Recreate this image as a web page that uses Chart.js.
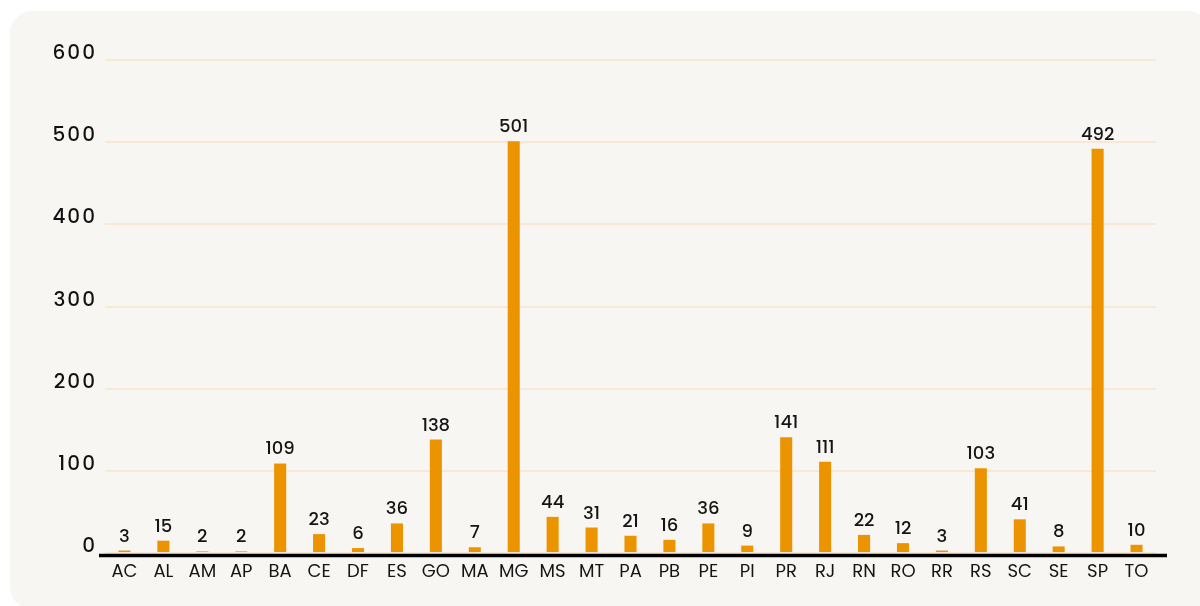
<!DOCTYPE html>
<html>
<head>
<meta charset="utf-8">
<script src="https://cdn.jsdelivr.net/npm/chart.js@4.4.0/dist/chart.umd.min.js"></script>
<style>
  html, body { margin: 0; padding: 0; background: #ffffff; }
  #card {
    position: absolute; left: 10px; top: 11px; width: 1200px; height: 598px;
    background: #f8f6f2; border-radius: 22px;
  }
  #wrap { position: absolute; left: 0; top: 0; width: 1200px; height: 606px; }
</style>
</head>
<body>
<div id="card"></div>
<div id="wrap"><canvas id="grafico"></canvas></div>
<script>
// estados e quantidades
const estados = ['AC','AL','AM','AP','BA','CE','DF','ES','GO','MA','MG','MS','MT','PA','PB','PE','PI','PR','RJ','RN','RO','RR','RS','SC','SE','SP','TO'];
const quantidades = [3,15,2,2,109,23,6,36,138,7,501,44,31,21,16,36,9,141,111,22,12,3,103,41,8,492,10];
const ticksY = [0,100,200,300,400,500,600];

const corBarra = '#ec9400';
const fonte = "Poppins, Inter, 'Open Sans', sans-serif";

// numeros em cima das barras
const rotulos = {
  id: 'rotulos',
  afterDatasetsDraw(chart) {
    const ctx = chart.ctx;
    const meta = chart.getDatasetMeta(0);
    ctx.save();
    ctx.font = '500 18px ' + fonte;
    ctx.fillStyle = '#151515';
    ctx.textAlign = 'center';
    ctx.textBaseline = 'alphabetic';
    meta.data.forEach((bar, i) => {
      ctx.fillText(quantidades[i], bar.x, bar.y - 9);
    });
    ctx.restore();
  }
};

// linha preta do eixo x (um pouco maior que a area)
const linhaBase = {
  id: 'linhaBase',
  afterDatasetsDraw(chart) {
    const a = chart.chartArea;
    const y0 = chart.scales.y.getPixelForValue(0);
    const ctx = chart.ctx;
    ctx.save();
    ctx.strokeStyle = '#000000';
    ctx.lineWidth = 3.5;
    ctx.beginPath();
    ctx.moveTo(a.left - 6, y0 + 2.5);
    ctx.lineTo(a.right + 11, y0 + 2.5);
    ctx.stroke();
    ctx.restore();
  }
};

// espacamento das letras no eixo y
const espacoY = {
  id: 'espacoY',
  afterLayout(chart) {
    const s = chart.scales.y;
    if (s._espaco) return;
    const original = s.drawLabels.bind(s);
    s.drawLabels = function(area) {
      chart.ctx.save();
      chart.ctx.letterSpacing = '2px';
      original(area);
      chart.ctx.restore();
    };
    s._espaco = true;
  }
};

const ctx = document.getElementById('grafico');
const myChart = new Chart(ctx, {
  type: 'bar',
  data: {
    labels: estados,
    datasets: [{
      label: 'Quantidade',
      data: quantidades,
      backgroundColor: corBarra,
      borderWidth: 0,
      barPercentage: 0.62,
      categoryPercentage: 0.5
    }]
  },
  options: {
    responsive: true,
    maintainAspectRatio: false,
    animation: false,
    layout: { padding: { top: 60, right: 44, bottom: 0, left: 0 } },
    plugins: {
      legend: { display: false },
      tooltip: { enabled: false }
    },
    scales: {
      x: {
        grid: { display: false, drawTicks: false },
        border: { display: false },
        ticks: { color: '#151515', font: { family: fonte, size: 18 }, padding: 9 },
        afterFit(s) { s.height = 53; }
      },
      y: {
        min: 0,
        max: 600,
        afterBuildTicks(s) { s.ticks = ticksY.map(v => ({ value: v })); },
        grid: { color: '#f9e8d3', lineWidth: 2, drawTicks: false },
        border: { display: false },
        ticks: {
          color: '#111111',
          font: { family: fonte, size: 20, weight: '500' },
          padding: 8,
          labelOffset: -6
        },
        afterFit(s) { s.width = 105; }
      }
    }
  },
  plugins: [rotulos, linhaBase, espacoY]
});
</script>
</body>
</html>
